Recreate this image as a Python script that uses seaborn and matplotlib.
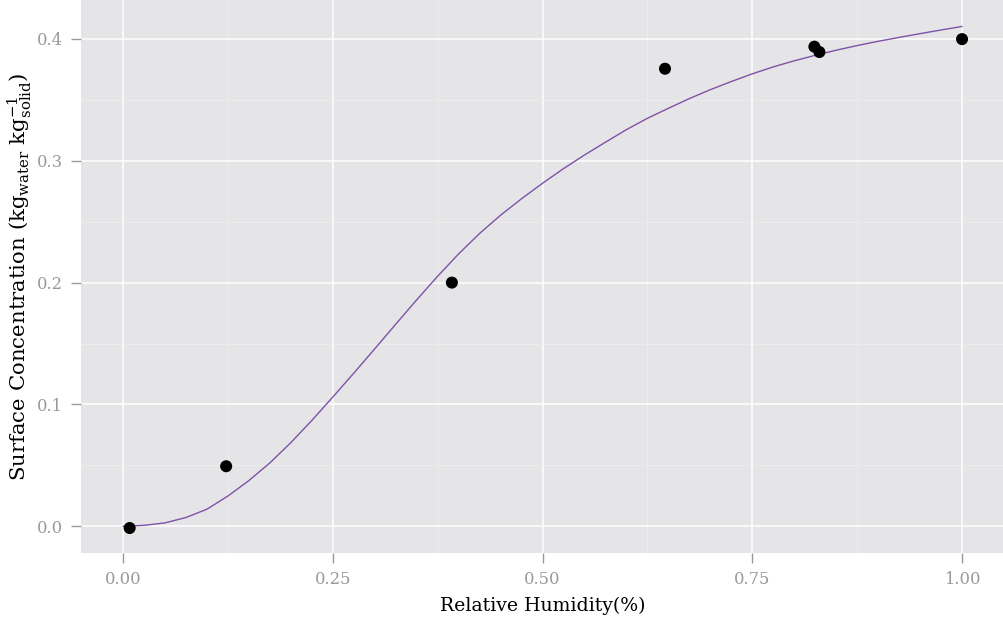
import matplotlib
matplotlib.use("Agg")
import matplotlib.pyplot as plt
import seaborn as sns
import pandas as pd

# Measured sorption points
rh_obs = [0.008, 0.123, 0.392, 0.646, 0.824, 0.830, 1.000]
conc_obs = [-0.0014, 0.0493, 0.2000, 0.3755, 0.3936, 0.3892, 0.3998]

# Fitted isotherm curve
rh_fit = [0.000, 0.025, 0.050, 0.075, 0.100, 0.125, 0.150, 0.175, 0.200, 0.225,
          0.250, 0.275, 0.300, 0.325, 0.350, 0.375, 0.400, 0.425, 0.450, 0.475,
          0.500, 0.525, 0.550, 0.575, 0.600, 0.625, 0.650, 0.675, 0.700, 0.725,
          0.750, 0.775, 0.800, 0.825, 0.850, 0.875, 0.900, 0.925, 0.950, 0.975,
          1.000]
conc_fit = [0.0000, 0.0008, 0.0028, 0.0072, 0.0140, 0.0248, 0.0375, 0.0520, 0.0686, 0.0868,
            0.1060, 0.1256, 0.1456, 0.1658, 0.1858, 0.2052, 0.2235, 0.2403, 0.2553, 0.2688,
            0.2815, 0.2935, 0.3047, 0.3152, 0.3255, 0.3348, 0.3430, 0.3510, 0.3583, 0.3650,
            0.3713, 0.3770, 0.3820, 0.3865, 0.3907, 0.3945, 0.3980, 0.4012, 0.4043, 0.4073,
            0.4102]

x_ticks = [0.00, 0.25, 0.50, 0.75, 1.00]
x_tick_labels = ["0.00", "0.25", "0.50", "0.75", "1.00"]
y_ticks = [0.0, 0.1, 0.2, 0.3, 0.4]
y_tick_labels = ["0.0", "0.1", "0.2", "0.3", "0.4"]

obs = pd.DataFrame({"rh": rh_obs, "conc": conc_obs})
fit = pd.DataFrame({"rh": rh_fit, "conc": conc_fit})

sns.set_theme(style="darkgrid")
plt.rcParams["font.family"] = ["DejaVu Serif"]
plt.rcParams["mathtext.fontset"] = "dejavuserif"

fig = plt.figure(figsize=(10.04, 6.19), dpi=100)
W, H = 1004, 619
ax = fig.add_axes([81 / W, 1 - 553 / H, (W - 81) / W, 553 / H])
ax.set_facecolor("#E5E5E7")

sns.lineplot(data=fit, x="rh", y="conc", ax=ax, color="#7D52A8", linewidth=1.0,
             sort=False, zorder=3)
sns.scatterplot(data=obs, x="rh", y="conc", ax=ax, color="black", s=75,
                edgecolor="none", zorder=4)

ax.set_xlim(-0.05, 1.05)
ax.set_ylim(-0.0219, 0.4319)

ax.set_xticks(x_ticks)
ax.set_xticklabels(x_tick_labels)
ax.set_yticks(y_ticks)
ax.set_yticklabels(y_tick_labels)
ax.set_xticks([0.125, 0.375, 0.625, 0.875], minor=True)
ax.set_yticks([0.05, 0.15, 0.25, 0.35], minor=True)

ax.grid(which="major", color="white", linewidth=1.1)
ax.grid(which="minor", color="#F0F0F0", linewidth=0.5)
ax.set_axisbelow(True)
for sp in ax.spines.values():
    sp.set_visible(False)

tick_grey = "#999999"
ax.tick_params(axis="both", which="major", length=7.5, width=1.0, color=tick_grey,
               labelcolor=tick_grey, labelsize=11.8, direction="out", pad=5.5,
               bottom=True, left=True)
ax.tick_params(axis="both", which="minor", length=0)

ax.set_xlabel("Relative Humidity(%)", fontsize=13.6, color="black", labelpad=6.5)
ax.set_ylabel(r"Surface Concentration (kg$_{\mathrm{water}}$ kg$_{\mathrm{solid}}^{-1}$)",
              fontsize=15.3, color="black", labelpad=2)

fig.savefig("out.png", dpi=100)
